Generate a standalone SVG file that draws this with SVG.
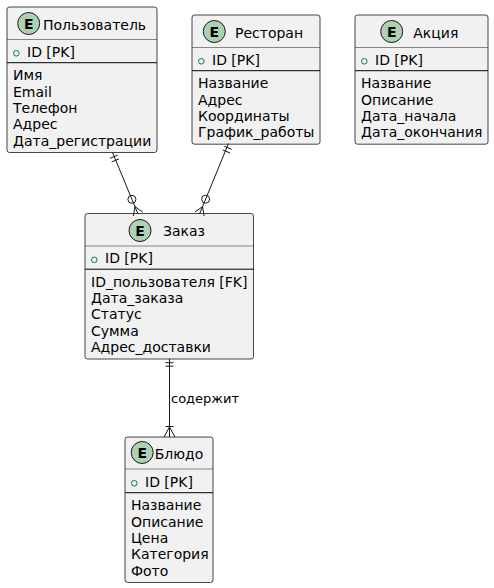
<svg xmlns="http://www.w3.org/2000/svg" width="494" height="588" viewBox="0 0 494 588">
<style>
text{font-family:"DejaVu Sans","Liberation Sans",sans-serif;font-size:14px;fill:#000}
.box{fill:#F1F1F1;stroke:#181818;stroke-width:0.8}
.hl{stroke:#181818;stroke-width:0.5}
.sep{stroke:#000;stroke-width:1}
.spot{fill:#ADD1B2;stroke:#181818;stroke-width:1}
.E{font-weight:bold;font-size:14px;text-anchor:middle}
.pub{fill:none;stroke:#038048;stroke-width:1}
.ln{stroke:#181818;stroke-width:1;fill:none}
.lbl{font-size:13px}
</style>
<g id="user">
<rect class="box" x="7" y="7" width="150" height="145.5" rx="2.5"/>
<circle class="spot" cx="28.7" cy="23.5" r="11"/><text class="E" x="28.7" y="28.5">E</text>
<text x="43" y="29.5">Пользователь</text>
<line class="hl" x1="7" y1="39.5" x2="157" y2="39.5"/>
<circle class="pub" cx="16.3" cy="53.3" r="2.8"/><text x="27" y="56.8">ID [PK]</text>
<line class="sep" x1="7" y1="62.7" x2="157" y2="62.7"/>
<text x="13" y="80.3">Имя</text>
<text x="13" y="96.6">Email</text>
<text x="13" y="112.9">Телефон</text>
<text x="13" y="129.2">Адрес</text>
<text x="13" y="145.5">Дата_регистрации</text>
</g>
<g id="restaurant">
<rect class="box" x="192" y="15" width="128" height="129.2" rx="2.5"/>
<circle class="spot" cx="214.3" cy="31.5" r="11"/><text class="E" x="214.3" y="36.5">E</text>
<text x="235" y="37.5">Ресторан</text>
<line class="hl" x1="192" y1="47.5" x2="320" y2="47.5"/>
<circle class="pub" cx="201.3" cy="61.3" r="2.8"/><text x="212" y="64.8">ID [PK]</text>
<line class="sep" x1="192" y1="70.7" x2="320" y2="70.7"/>
<text x="198" y="88.3">Название</text>
<text x="198" y="104.6">Адрес</text>
<text x="198" y="120.9">Координаты</text>
<text x="198" y="137.2">График_работы</text>
</g>
<g id="promo">
<rect class="box" x="355" y="15" width="133" height="129.2" rx="2.5"/>
<circle class="spot" cx="391.7" cy="31.5" r="11"/><text class="E" x="391.7" y="36.5">E</text>
<text x="413.3" y="37.5">Акция</text>
<line class="hl" x1="355" y1="47.5" x2="488" y2="47.5"/>
<circle class="pub" cx="364.3" cy="61.3" r="2.8"/><text x="375" y="64.8">ID [PK]</text>
<line class="sep" x1="355" y1="70.7" x2="488" y2="70.7"/>
<text x="361" y="88.3">Название</text>
<text x="361" y="104.6">Описание</text>
<text x="361" y="120.9">Дата_начала</text>
<text x="361" y="137.2">Дата_окончания</text>
</g>
<g id="order">
<rect class="box" x="85" y="213.5" width="168.5" height="145.5" rx="2.5"/>
<circle class="spot" cx="140" cy="230.5" r="11"/><text class="E" x="140" y="235.5">E</text>
<text x="163" y="236">Заказ</text>
<line class="hl" x1="85" y1="246" x2="253.5" y2="246"/>
<circle class="pub" cx="94.3" cy="259.8" r="2.8"/><text x="105" y="263.3">ID [PK]</text>
<line class="sep" x1="85" y1="269.2" x2="253.5" y2="269.2"/>
<text x="91" y="286.8">ID_пользователя [FK]</text>
<text x="91" y="303.1">Дата_заказа</text>
<text x="91" y="319.4">Статус</text>
<text x="91" y="335.7">Сумма</text>
<text x="91" y="352">Адрес_доставки</text>
</g>
<g id="dish">
<rect class="box" x="125" y="437" width="88" height="145.5" rx="2.5"/>
<circle class="spot" cx="142.2" cy="452.5" r="11"/><text class="E" x="142.2" y="457.5">E</text>
<text x="154.7" y="459">Блюдо</text>
<line class="hl" x1="125" y1="469" x2="213" y2="469"/>
<circle class="pub" cx="134.3" cy="483.3" r="2.8"/><text x="145" y="486.8">ID [PK]</text>
<line class="sep" x1="125" y1="492.7" x2="213" y2="492.7"/>
<text x="131" y="510.3">Название</text>
<text x="131" y="526.6">Описание</text>
<text x="131" y="542.9">Цена</text>
<text x="131" y="559.2">Категория</text>
<text x="131" y="575.5">Фото</text>
</g>
<g id="connectors">
<line class="ln" x1="112.5" y1="152.5" x2="138" y2="214"/>
<line class="ln" x1="117.5" y1="155.2" x2="110.1" y2="158.3"/>
<line class="ln" x1="119" y1="158.9" x2="111.7" y2="161.9"/>
<circle class="ln" cx="131.9" cy="199.3" r="4" fill="#fff"/>
<line class="ln" x1="135" y1="206.6" x2="142.6" y2="212.1"/>
<line class="ln" x1="135" y1="206.6" x2="133.4" y2="215.9"/>
<line class="ln" x1="228.5" y1="143.5" x2="199.5" y2="214"/>
<line class="ln" x1="231.7" y1="149.3" x2="224.3" y2="146.3"/>
<line class="ln" x1="230.2" y1="153" x2="222.8" y2="150"/>
<circle class="ln" cx="205.6" cy="199.2" r="4" fill="#fff"/>
<line class="ln" x1="202.5" y1="206.6" x2="194.9" y2="212.1"/>
<line class="ln" x1="202.5" y1="206.6" x2="204.1" y2="215.9"/>
<line class="ln" x1="169.5" y1="359" x2="169.5" y2="437"/>
<line class="ln" x1="165.5" y1="362.7" x2="173.5" y2="362.7"/>
<line class="ln" x1="165.5" y1="366.2" x2="173.5" y2="366.2"/>
<line class="ln" x1="165.5" y1="426.5" x2="173.5" y2="426.5"/>
<line class="ln" x1="169.5" y1="427" x2="164" y2="437"/>
<line class="ln" x1="169.5" y1="427" x2="175" y2="437"/>
<text class="lbl" x="171" y="403">содержит</text>
</g>
</svg>
